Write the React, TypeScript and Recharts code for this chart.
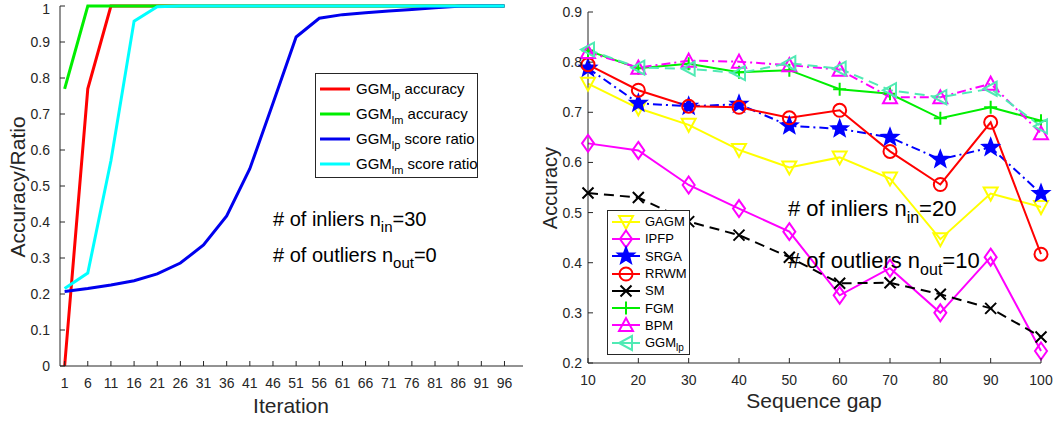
import React from 'react'
import { LineChart, Line, XAxis, YAxis, Legend } from 'recharts'

const FONT = '"Liberation Sans", Arial, Helvetica, sans-serif'
const INK = '#262626'

// ---- left panel: convergence over iterations ----
const iterations = [1, 6, 11, 16, 21, 26, 31, 36, 41, 46, 51, 56, 61, 66, 71, 76, 81, 86, 91, 96]
const lpAccuracy = [0, 0.77, 1, 1, 1, 1, 1, 1, 1, 1, 1, 1, 1, 1, 1, 1, 1, 1, 1, 1]
const lmAccuracy = [0.77, 1, 1, 1, 1, 1, 1, 1, 1, 1, 1, 1, 1, 1, 1, 1, 1, 1, 1, 1]
const lpScoreRatio = [0.207, 0.215, 0.225, 0.237, 0.256, 0.286, 0.336, 0.417, 0.548, 0.73, 0.914, 0.966, 0.976, 0.981, 0.986, 0.99, 0.995, 0.999, 1, 1]
const lmScoreRatio = [0.215, 0.258, 0.57, 0.958, 0.998, 1, 1, 1, 1, 1, 1, 1, 1, 1, 1, 1, 1, 1, 1, 1]
const ratioTicks = [0, 0.1, 0.2, 0.3, 0.4, 0.5, 0.6, 0.7, 0.8, 0.9, 1]

// ---- right panel: accuracy vs sequence gap ----
const gaps = [10, 20, 30, 40, 50, 60, 70, 80, 90, 100]
const gagm = [0.757, 0.708, 0.675, 0.625, 0.59, 0.61, 0.568, 0.447, 0.538, 0.511]
const ipfp = [0.638, 0.624, 0.555, 0.508, 0.462, 0.335, 0.389, 0.3, 0.411, 0.224]
const srga = [0.788, 0.718, 0.712, 0.716, 0.673, 0.667, 0.65, 0.606, 0.63, 0.538]
const rrwm = [0.795, 0.744, 0.712, 0.71, 0.689, 0.704, 0.622, 0.556, 0.68, 0.417]
const sm = [0.539, 0.53, 0.482, 0.455, 0.411, 0.359, 0.36, 0.337, 0.309, 0.252]
const fgm = [0.823, 0.788, 0.797, 0.78, 0.784, 0.746, 0.737, 0.688, 0.71, 0.683]
const bpm = [0.82, 0.789, 0.803, 0.801, 0.794, 0.785, 0.73, 0.73, 0.757, 0.658]
const ggmLp = [0.825, 0.789, 0.787, 0.778, 0.798, 0.787, 0.744, 0.73, 0.747, 0.672]
const accTicks = [0.2, 0.3, 0.4, 0.5, 0.6, 0.7, 0.8, 0.9]

const leftData = iterations.map((it, i) => ({
  iter: it,
  lpAcc: lpAccuracy[i],
  lmAcc: lmAccuracy[i],
  lpRatio: lpScoreRatio[i],
  lmRatio: lmScoreRatio[i],
}))

const rightData = gaps.map((g, i) => ({
  gap: g,
  GAGM: gagm[i],
  IPFP: ipfp[i],
  SRGA: srga[i],
  RRWM: rrwm[i],
  SM: sm[i],
  FGM: fgm[i],
  BPM: bpm[i],
  GGMlp: ggmLp[i],
}))

const leftSeries = [
  { key: 'lpAcc', color: '#ff0000', sub: 'lp', tail: ' accuracy' },
  { key: 'lmAcc', color: '#00ee00', sub: 'lm', tail: ' accuracy' },
  { key: 'lpRatio', color: '#0000ee', sub: 'lp', tail: ' score ratio' },
  { key: 'lmRatio', color: '#00ffff', sub: 'lm', tail: ' score ratio' },
]

const rightSeries = [
  { key: 'GAGM', label: 'GAGM', color: '#ffff00', shape: 'down', dash: undefined },
  { key: 'IPFP', label: 'IPFP', color: '#ff00ff', shape: 'diamond', dash: undefined },
  { key: 'SRGA', label: 'SRGA', color: '#0000ff', shape: 'star', dash: '9 4 2 4' },
  { key: 'RRWM', label: 'RRWM', color: '#ff0000', shape: 'circle', dash: undefined },
  { key: 'SM', label: 'SM', color: '#000000', shape: 'x', dash: '10 6' },
  { key: 'FGM', label: 'FGM', color: '#00ee00', shape: 'plus', dash: undefined },
  { key: 'BPM', label: 'BPM', color: '#ff00ff', shape: 'up', dash: '9 4 2 4' },
  { key: 'GGMlp', label: 'GGM', color: '#50eab4', shape: 'left', dash: '10 6' },
]

function Marker({ shape, cx, cy, color }: { shape: string; cx: number; cy: number; color: string }) {
  const common = { fill: 'none', stroke: color, strokeWidth: 2, strokeDasharray: 'none' }
  switch (shape) {
    case 'down':
      return <polygon {...common} points={`${cx - 7},${cy - 6} ${cx + 7},${cy - 6} ${cx},${cy + 7}`} />
    case 'up':
      return <polygon {...common} points={`${cx - 7},${cy + 6} ${cx + 7},${cy + 6} ${cx},${cy - 7}`} />
    case 'left':
      return <polygon {...common} points={`${cx + 6},${cy - 7} ${cx + 6},${cy + 7} ${cx - 7},${cy}`} />
    case 'diamond':
      return <polygon {...common} points={`${cx},${cy - 8.5} ${cx + 6},${cy} ${cx},${cy + 8.5} ${cx - 6},${cy}`} />
    case 'circle':
      return <circle {...common} cx={cx} cy={cy} r={6.5} />
    case 'x':
      return (
        <path {...common} d={`M${cx - 5.5},${cy - 5.5}L${cx + 5.5},${cy + 5.5}M${cx - 5.5},${cy + 5.5}L${cx + 5.5},${cy - 5.5}`} />
      )
    case 'plus':
      return <path {...common} d={`M${cx - 6.5},${cy}L${cx + 6.5},${cy}M${cx},${cy - 6.5}L${cx},${cy + 6.5}`} />
    case 'star': {
      const pts: string[] = []
      for (let k = 0; k < 10; k++) {
        const r = k % 2 === 0 ? 9 : 3.8
        const a = -Math.PI / 2 + (k * Math.PI) / 5
        pts.push(`${cx + r * Math.cos(a)},${cy + r * Math.sin(a)}`)
      }
      return <polygon points={pts.join(' ')} fill={color} stroke={color} strokeWidth={1.5} strokeDasharray="none" />
    }
    default:
      return null
  }
}

// MATLAB style ticks: marks point into the plot
const makeXTick = (fmt: (v: number) => string) => (props: any) => {
  const { x, y, payload } = props
  return (
    <g>
      <line x1={x} x2={x} y1={y} y2={y - 5} stroke={INK} strokeWidth={1} />
      <text x={x} y={y + 22} textAnchor="middle" fontSize={14} fill={INK} fontFamily={FONT}>
        {fmt(payload.value)}
      </text>
    </g>
  )
}

const makeYTick = (fmt: (v: number) => string, gap: number) => (props: any) => {
  const { x, y, payload } = props
  return (
    <g>
      <line x1={x} x2={x + 5} y1={y} y2={y} stroke={INK} strokeWidth={1} />
      <text x={x - gap} y={Math.max(y + 5, 14)} textAnchor="end" fontSize={14} fill={INK} fontFamily={FONT}>
        {fmt(payload.value)}
      </text>
    </g>
  )
}

const fmtRatio = (v: number) => (v === 0 ? '0' : v === 1 ? '1' : v.toFixed(1))

const LeftLegend = () => (
  <div
    style={{
      width: 163,
      height: 105,
      boxSizing: 'border-box',
      border: `1px solid ${INK}`,
      background: '#fff',
      paddingTop: 2,
      fontFamily: FONT,
      fontSize: 15,
      color: '#000',
    }}
  >
    {leftSeries.map(s => (
      <div key={s.key} style={{ height: 25, display: 'flex', alignItems: 'center' }}>
        <svg width={40} height={10} style={{ flex: 'none' }}>
          <line x1={4} x2={34} y1={5} y2={5} stroke={s.color} strokeWidth={3} />
        </svg>
        <span style={{ whiteSpace: 'nowrap' }}>
          GGM<span style={{ fontSize: 11, position: 'relative', top: 5 }}>{s.sub}</span>
          {s.tail}
        </span>
      </div>
    ))}
  </div>
)

const RightLegend = () => (
  <div
    style={{
      width: 83,
      height: 145,
      boxSizing: 'border-box',
      border: `1px solid ${INK}`,
      background: '#fff',
      paddingTop: 2,
      fontFamily: FONT,
      fontSize: 13,
      color: '#000',
    }}
  >
    {rightSeries.map(s => (
      <div key={s.key} style={{ height: 17.3, display: 'flex', alignItems: 'center' }}>
        <svg width={37} height={18} style={{ flex: 'none', overflow: 'visible' }}>
          <line x1={4} x2={32} y1={9} y2={9} stroke={s.color} strokeWidth={2} />
          <Marker shape={s.shape} cx={18} cy={9} color={s.color} />
        </svg>
        <span style={{ whiteSpace: 'nowrap' }}>
          {s.label}
          {s.key === 'GGMlp' && <span style={{ fontSize: 10, position: 'relative', top: 4 }}>lp</span>}
        </span>
      </div>
    ))}
  </div>
)

const SubText = ({ x, y, size, subSize, pre, sub, post }: any) => (
  <text x={x} y={y} fontSize={size} fill="#000" fontFamily={FONT}>
    {pre}
    <tspan fontSize={subSize} dy={size * 0.32}>{sub}</tspan>
    <tspan dy={-size * 0.32}>{post}</tspan>
  </text>
)

export default function App() {
  return (
    <div style={{ position: 'absolute', left: 0, top: 0, width: 1055, height: 421, background: '#fff' }}>
      <div style={{ position: 'absolute', left: 0, top: 0 }}>
        <LineChart width={530} height={421} data={leftData} margin={{ top: 6, right: 7, bottom: 0, left: 0 }}>
          <XAxis
            dataKey="iter"
            type="number"
            domain={[0, 100]}
            ticks={iterations}
            interval={0}
            height={55}
            tickSize={0}
            tickMargin={0}
            axisLine={{ stroke: INK }}
            tick={makeXTick(v => String(v))}
          />
          <YAxis
            type="number"
            domain={[0, 1]}
            ticks={ratioTicks}
            interval={0}
            width={60}
            tickSize={0}
            tickMargin={0}
            axisLine={{ stroke: INK }}
            tick={makeYTick(fmtRatio, 10)}
          />
          <Legend
            layout="vertical"
            align="center"
            verticalAlign="middle"
            wrapperStyle={{ left: 315, top: 73, width: 163 }}
            content={() => <LeftLegend />}
          />
          {leftSeries.map(s => (
            <Line
              key={s.key}
              type="linear"
              dataKey={s.key}
              stroke={s.color}
              strokeWidth={3}
              dot={false}
              activeDot={false}
              isAnimationActive={false}
            />
          ))}
        </LineChart>
      </div>

      <div style={{ position: 'absolute', left: 530, top: 0 }}>
        <LineChart width={525} height={421} data={rightData} margin={{ top: 12, right: 14, bottom: 0, left: 0 }}>
          <XAxis
            dataKey="gap"
            type="number"
            domain={[10, 100]}
            ticks={gaps}
            interval={0}
            height={58}
            tickSize={0}
            tickMargin={0}
            axisLine={{ stroke: INK }}
            tick={makeXTick(v => String(v))}
          />
          <YAxis
            type="number"
            domain={[0.2, 0.9]}
            ticks={accTicks}
            interval={0}
            width={58}
            tickSize={0}
            tickMargin={0}
            axisLine={{ stroke: INK }}
            tick={makeYTick(v => v.toFixed(1), 6)}
          />
          <Legend
            layout="vertical"
            align="center"
            verticalAlign="middle"
            wrapperStyle={{ left: 77, top: 210, width: 83 }}
            content={() => <RightLegend />}
          />
          {rightSeries.map(s => (
            <Line
              key={s.key}
              type="linear"
              dataKey={s.key}
              stroke={s.color}
              strokeWidth={2}
              strokeDasharray={s.dash}
              dot={(p: any) => <Marker key={`${s.key}-${p.index}`} shape={s.shape} cx={p.cx} cy={p.cy} color={s.color} />}
              activeDot={false}
              isAnimationActive={false}
            />
          ))}
        </LineChart>
      </div>

      {/* axis titles and annotations */}
      <svg width={1055} height={421} style={{ position: 'absolute', left: 0, top: 0, pointerEvents: 'none' }}>
        <text x={25} y={187} transform="rotate(-90 25 187)" textAnchor="middle" fontSize={21} fill={INK} fontFamily={FONT}>
          Accuracy/Ratio
        </text>
        <text x={291} y={413} textAnchor="middle" fontSize={21} fill={INK} fontFamily={FONT}>
          Iteration
        </text>
        <text x={557} y={188} transform="rotate(-90 557 188)" textAnchor="middle" fontSize={20} fill={INK} fontFamily={FONT}>
          Accuracy
        </text>
        <text x={814} y={408} textAnchor="middle" fontSize={21} fill={INK} fontFamily={FONT}>
          Sequence gap
        </text>
        <SubText x={273} y={226} size={20} subSize={15} pre="# of inliers n" sub="in" post="=30" />
        <SubText x={273} y={262} size={20} subSize={15} pre="# of outliers n" sub="out" post="=0" />
        <SubText x={788} y={216} size={22} subSize={16} pre="# of inliers n" sub="in" post="=20" />
        <SubText x={788} y={268} size={22} subSize={16} pre="# of outliers n" sub="out" post="=10" />
      </svg>
    </div>
  )
}
